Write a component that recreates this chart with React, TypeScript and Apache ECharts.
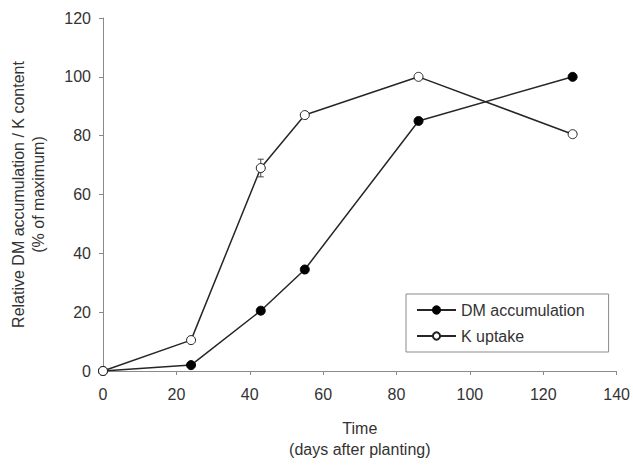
import React, { useEffect, useRef } from "react";
import * as echarts from "echarts";

const days = [0, 24, 43, 55, 86, 128];
const dmValues = [0, 2, 20.5, 34.5, 85, 100];
const kValues = [0, 10.5, 69, 87, 100, 80.5];
const kErrors = [0, 0, 3, 0, 0, 0];
const xTicks = [0, 20, 40, 60, 80, 100, 120, 140];
const yTicks = [0, 20, 40, 60, 80, 100, 120];
const seriesNames = ["DM accumulation", "K uptake"];

export default function App() {
  const ref = useRef<HTMLDivElement>(null);
  useEffect(() => {
    if (!ref.current) return;
    const chart = echarts.init(ref.current, null, { renderer: "svg" });
    const font = "Liberation Sans, Arial, sans-serif";
    const axisColor = "#8a8a8a";
    const textColor = "#333";
    const lineColor = "#262626";
    chart.setOption({
      animation: false,
      backgroundColor: "#fff",
      textStyle: { fontFamily: font },
      grid: { left: 102, top: 18, width: 518, height: 363, containLabel: false },
      legend: {
        data: seriesNames,
        orient: "vertical",
        left: 406,
        top: 294,
        padding: [8, 24, 8, 10],
        itemGap: 10,
        itemWidth: 39,
        itemHeight: 9,
        borderColor: axisColor,
        borderWidth: 1,
        textStyle: { fontSize: 16, color: textColor, fontFamily: font },
      },
      xAxis: {
        type: "value",
        min: xTicks[0],
        max: xTicks[xTicks.length - 1],
        interval: xTicks[1] - xTicks[0],
        name: "Time\n(days after planting)",
        nameLocation: "middle",
        nameGap: 47,
        nameTextStyle: { fontSize: 16, color: textColor, lineHeight: 21, fontFamily: font },
        splitLine: { show: false },
        axisLine: { lineStyle: { color: axisColor, width: 1 } },
        axisTick: { inside: false, length: 4, lineStyle: { color: axisColor } },
        axisLabel: { fontSize: 16, color: textColor, margin: 15, fontFamily: font },
      },
      yAxis: {
        type: "value",
        min: yTicks[0],
        max: yTicks[yTicks.length - 1],
        interval: yTicks[1] - yTicks[0],
        name: "Relative DM accumulation / K content\n(% of maximum)",
        nameLocation: "middle",
        nameGap: 55,
        nameTextStyle: { fontSize: 16, color: textColor, lineHeight: 20, fontFamily: font },
        splitLine: { show: false },
        axisLine: { show: true, lineStyle: { color: axisColor, width: 1 } },
        axisTick: { show: true, inside: false, length: 4, lineStyle: { color: axisColor } },
        axisLabel: { fontSize: 16, color: textColor, margin: 12, fontFamily: font },
      },
      series: [
        {
          type: "custom",
          name: "K error",
          z: 1,
          silent: true,
          data: days
            .map((d, i) => [d, kValues[i], kErrors[i]])
            .filter((r) => r[2] > 0),
          renderItem: (params: any, api: any) => {
            const x = api.value(0);
            const y = api.value(1);
            const e = api.value(2);
            const top = api.coord([x, y + e]);
            const bot = api.coord([x, y - e]);
            const w = 3;
            const style = { stroke: "#444", lineWidth: 1 };
            return {
              type: "group",
              children: [
                { type: "line", shape: { x1: top[0], y1: top[1], x2: bot[0], y2: bot[1] }, style },
                { type: "line", shape: { x1: top[0] - w, y1: top[1], x2: top[0] + w, y2: top[1] }, style },
                { type: "line", shape: { x1: bot[0] - w, y1: bot[1], x2: bot[0] + w, y2: bot[1] }, style },
              ],
            };
          },
        },
        {
          type: "line",
          name: seriesNames[0],
          z: 3,
          data: days.map((d, i) => [d, dmValues[i]]),
          symbol: "circle",
          symbolSize: 9,
          showAllSymbol: true,
          lineStyle: { color: lineColor, width: 1.5 },
          itemStyle: { color: "#000", borderColor: "#000", borderWidth: 1 },
        },
        {
          type: "line",
          name: seriesNames[1],
          z: 4,
          data: days.map((d, i) => [d, kValues[i]]),
          symbol: "circle",
          symbolSize: 9,
          showAllSymbol: true,
          lineStyle: { color: lineColor, width: 1.5 },
          itemStyle: { color: "#fff", borderColor: "#222", borderWidth: 1 },
        },
      ],
    });
    return () => chart.dispose();
  }, []);
  return (
    <div
      ref={ref}
      style={{ position: "absolute", left: 0, top: 0, width: 633, height: 465 }}
    />
  );
}
